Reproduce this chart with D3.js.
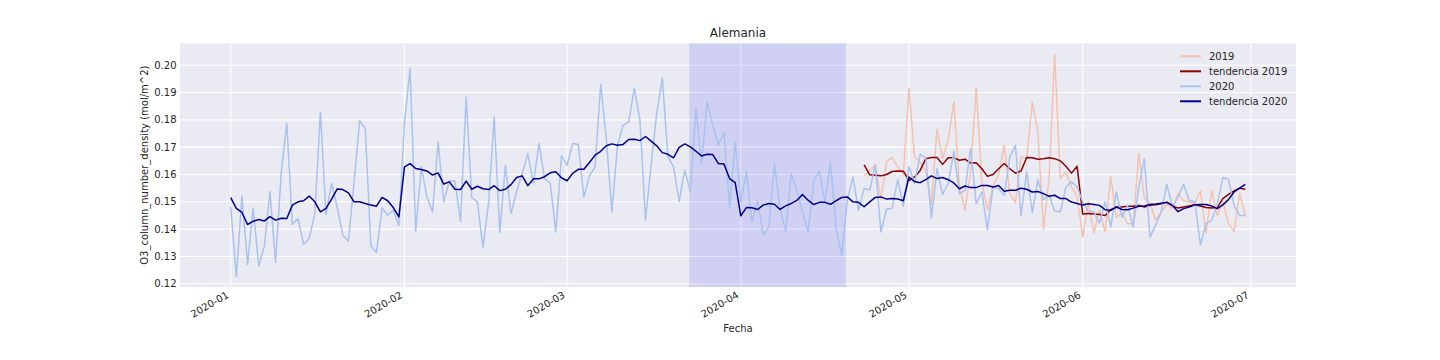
<!DOCTYPE html>
<html>
<head>
<meta charset="utf-8">
<script src="https://cdn.jsdelivr.net/npm/d3@7"></script>
<style>
  body { margin: 0; background: #fff; }
  text { font-family: "DejaVu Sans", sans-serif; fill: #262626; }
</style>
</head>
<body>
<div id="chart"></div>
<script>
// daily values, 2020-01-01 .. 2020-06-30
const start2020 = "2020-01-01";
const o3_2020 = [
  0.1482, 0.1226, 0.1522, 0.1271, 0.1476, 0.1265, 0.1338, 0.1537, 0.1278, 0.1604,
  0.1787, 0.1417, 0.1439, 0.1345, 0.1366, 0.1457, 0.1829, 0.1454, 0.1567, 0.1480,
  0.1378, 0.1356, 0.1570, 0.1797, 0.1768, 0.1338, 0.1315, 0.1478, 0.1451, 0.1470,
  0.1413, 0.1790, 0.1988, 0.1393, 0.1628, 0.1518, 0.1463, 0.1720, 0.1500, 0.1576,
  0.1576, 0.1427, 0.1884, 0.1515, 0.1500, 0.1333, 0.1494, 0.1811, 0.1387, 0.1634,
  0.1457, 0.1537, 0.1604, 0.1676, 0.1567, 0.1713, 0.1585, 0.1569, 0.1390, 0.1668,
  0.1634, 0.1713, 0.1710, 0.1518, 0.1595, 0.1628, 0.1930, 0.1732, 0.1463, 0.1707,
  0.1780, 0.1793, 0.1915, 0.1800, 0.1433, 0.1634, 0.1825, 0.1954, 0.1665, 0.1628,
  0.1502, 0.1616, 0.1537, 0.1842, 0.1640, 0.1866, 0.1780, 0.1707, 0.1753, 0.1479,
  0.1717, 0.1500, 0.1610, 0.1427, 0.1504, 0.1378, 0.1409, 0.1640, 0.1476, 0.1393,
  0.1604, 0.1539, 0.1463, 0.1390, 0.1576, 0.1612, 0.1500, 0.1645, 0.1402, 0.1304,
  0.1506, 0.1591, 0.1469, 0.1549, 0.1543, 0.1634, 0.1390, 0.1473, 0.1476, 0.1582,
  0.1484, 0.1628, 0.1567, 0.1674, 0.1662, 0.1442, 0.1622, 0.1527, 0.1567, 0.1685,
  0.1530, 0.1542, 0.1695, 0.1493, 0.1536, 0.1398, 0.1554, 0.1548, 0.1524, 0.1664,
  0.1707, 0.1450, 0.1609, 0.1460, 0.1581, 0.1508, 0.1524, 0.1466, 0.1463, 0.1554,
  0.1573, 0.1554, 0.1500, 0.1466, 0.1463, 0.1422, 0.1500, 0.1408, 0.1536, 0.1444,
  0.1487, 0.1408, 0.1554, 0.1658, 0.1371, 0.1414, 0.1463, 0.1564, 0.1481, 0.1518,
  0.1564, 0.1505, 0.1500, 0.1343, 0.1420, 0.1432, 0.1490, 0.1589, 0.1582, 0.1487,
  0.1450, 0.1450
];
const trend_2020 = [
  0.1515, 0.1476, 0.1461, 0.1417, 0.1429, 0.1435, 0.1430, 0.1446, 0.1433, 0.1440,
  0.1439, 0.1488, 0.1500, 0.1504, 0.1521, 0.1500, 0.1463, 0.1476, 0.1510, 0.1547,
  0.1545, 0.1533, 0.1500, 0.1500, 0.1494, 0.1488, 0.1484, 0.1516, 0.1504, 0.1479,
  0.1445, 0.1628, 0.1640, 0.1622, 0.1618, 0.1613, 0.1598, 0.1606, 0.1565, 0.1573,
  0.1546, 0.1545, 0.1576, 0.1546, 0.1557, 0.1548, 0.1545, 0.1559, 0.1541, 0.1546,
  0.1563, 0.1589, 0.1595, 0.1559, 0.1584, 0.1584, 0.1592, 0.1606, 0.1610, 0.1588,
  0.1577, 0.1604, 0.1619, 0.1619, 0.1644, 0.1671, 0.1685, 0.1705, 0.1712, 0.1707,
  0.1710, 0.1728, 0.1729, 0.1724, 0.1739, 0.1722, 0.1705, 0.1680, 0.1674, 0.1661,
  0.1699, 0.1712, 0.1701, 0.1685, 0.1668, 0.1674, 0.1673, 0.1640, 0.1638, 0.1585,
  0.1570, 0.1449, 0.1479, 0.1478, 0.1472, 0.1488, 0.1494, 0.1491, 0.1472, 0.1485,
  0.1494, 0.1505, 0.1527, 0.1506, 0.1490, 0.1498, 0.1498, 0.1491, 0.1504, 0.1516,
  0.1518, 0.1500, 0.1498, 0.1482, 0.1500, 0.1516, 0.1518, 0.1510, 0.1512, 0.1510,
  0.1504, 0.1591, 0.1574, 0.1570, 0.1581, 0.1595, 0.1585, 0.1589, 0.1581, 0.1569,
  0.1548, 0.1558, 0.1552, 0.1552, 0.1560, 0.1560, 0.1554, 0.1560, 0.1539, 0.1542,
  0.1542, 0.1550, 0.1546, 0.1536, 0.1538, 0.1530, 0.1520, 0.1524, 0.1512, 0.1512,
  0.1499, 0.1494, 0.1488, 0.1493, 0.1490, 0.1487, 0.1471, 0.1469, 0.1481, 0.1472,
  0.1471, 0.1477, 0.1484, 0.1485, 0.1490, 0.1492, 0.1495, 0.1498, 0.1487, 0.1464,
  0.1475, 0.1481, 0.1489, 0.1490, 0.1490, 0.1485, 0.1475, 0.1489, 0.1508, 0.1536,
  0.1550, 0.1564
];

// 2019 values placed on the same calendar, 2020-04-23 .. 2020-06-30
const start2019 = "2020-04-23";
const o3_2019 = [
  0.1597, 0.1612, 0.1635, 0.1510, 0.1648, 0.1662, 0.1628, 0.1600, 0.1915, 0.1665,
  0.1645, 0.1610, 0.1490, 0.1765, 0.1658, 0.1727, 0.1866, 0.1560, 0.1468, 0.1610,
  0.1917, 0.1570, 0.1471, 0.1560, 0.1600, 0.1707, 0.1530, 0.1497, 0.1665, 0.1658,
  0.1866, 0.1755, 0.1399, 0.1590, 0.2040, 0.1585, 0.1610, 0.1555, 0.1520, 0.1372,
  0.1500, 0.1386, 0.1469, 0.1390, 0.1593, 0.1444, 0.1459, 0.1420, 0.1420, 0.1676,
  0.1512, 0.1497, 0.1432, 0.1463, 0.1490, 0.1475, 0.1530, 0.1503, 0.1500, 0.1493,
  0.1540, 0.1385, 0.1542, 0.1450, 0.1500, 0.1422, 0.1390, 0.1532, 0.1450
];
const trend_2019 = [
  0.1635, 0.1599, 0.1597, 0.1595, 0.1600, 0.1611, 0.1613, 0.1612, 0.1578, 0.1591,
  0.1615, 0.1658, 0.1662, 0.1662, 0.1637, 0.1661, 0.1661, 0.1652, 0.1656, 0.1642,
  0.1643, 0.1621, 0.1593, 0.1600, 0.1621, 0.1640, 0.1621, 0.1605, 0.1613, 0.1662,
  0.1661, 0.1656, 0.1658, 0.1661, 0.1658, 0.1650, 0.1630, 0.1605, 0.1630, 0.1455,
  0.1457, 0.1455, 0.1454, 0.1450, 0.1471, 0.1481, 0.1481, 0.1484, 0.1484, 0.1487,
  0.1481, 0.1487, 0.1489, 0.1493, 0.1499, 0.1485, 0.1477, 0.1481, 0.1485, 0.1489,
  0.1485, 0.1479, 0.1477, 0.1479, 0.1512, 0.1527, 0.1540, 0.1550, 0.1546
];

const lockdown = ["2020-03-22T19:00", "2020-04-19T18:00"];
const yTicks = [0.12, 0.13, 0.14, 0.15, 0.16, 0.17, 0.18, 0.19, 0.20];
const monthTicks = ["2020-01-01", "2020-02-01", "2020-03-01", "2020-04-01",
                    "2020-05-01", "2020-06-01", "2020-07-01"];

const series = [
  { name: "2019", start: start2019, values: o3_2019, color: "#f4c2b1" },
  { name: "tendencia 2019", start: start2019, values: trend_2019, color: "#8b0000" },
  { name: "2020", start: start2020, values: o3_2020, color: "#a9c2ef" },
  { name: "tendencia 2020", start: start2020, values: trend_2020, color: "#00008b" }
];

function drawChart() {
  const margin = { top: 43.3, right: 144, bottom: 73, left: 180 };
  const W = 1440, H = 360;
  const width = W - margin.left - margin.right;
  const height = H - margin.top - margin.bottom;

  const parse = d3.utcParse("%Y-%m-%d");
  const parseT = d3.utcParse("%Y-%m-%dT%H:%M");

  series.forEach(s => {
    const t0 = parse(s.start);
    s.points = s.values.map((v, i) => ({ date: d3.utcDay.offset(t0, i), value: v }));
  });

  // matplotlib-like 5% margins
  const allDates = series.flatMap(s => s.points.map(p => p.date));
  const [dMin, dMax] = d3.extent(allDates);
  const pad = (dMax - dMin) * 0.05;
  const x = d3.scaleUtc()
    .domain([new Date(+dMin - pad), new Date(+dMax + pad)])
    .range([0, width]);

  const y = d3.scaleLinear()
    .domain([0.11883, 0.20801])
    .range([height, 0]);

  const svg = d3.select("#chart")
    .append("svg")
    .attr("width", W)
    .attr("height", H)
    .append("g")
    .attr("transform", `translate(${margin.left},${margin.top})`);

  svg.append("rect")
    .attr("width", width)
    .attr("height", height)
    .attr("fill", "#eaeaf2");

  // grid
  svg.append("g")
    .selectAll("line")
    .data(yTicks)
    .join("line")
    .attr("x1", 0).attr("x2", width)
    .attr("y1", d => y(d)).attr("y2", d => y(d))
    .attr("stroke", "#fff").attr("stroke-width", 1.1);

  const months = monthTicks.map(parse);
  svg.append("g")
    .selectAll("line")
    .data(months)
    .join("line")
    .attr("x1", d => x(d)).attr("x2", d => x(d))
    .attr("y1", 0).attr("y2", height)
    .attr("stroke", "#fff").attr("stroke-width", 1.1);

  // lockdown span
  svg.append("rect")
    .attr("x", x(parseT(lockdown[0])))
    .attr("width", x(parseT(lockdown[1])) - x(parseT(lockdown[0])))
    .attr("y", 0)
    .attr("height", height)
    .attr("fill", "blue")
    .attr("fill-opacity", 0.11);

  const line = d3.line()
    .x(d => x(d.date))
    .y(d => y(d.value));

  svg.append("g")
    .selectAll("path")
    .data(series)
    .join("path")
    .attr("d", d => line(d.points))
    .attr("fill", "none")
    .attr("stroke", d => d.color)
    .attr("stroke-width", 1.5)
    .attr("stroke-linejoin", "round");

  // y tick labels
  svg.append("g")
    .selectAll("text")
    .data(yTicks)
    .join("text")
    .attr("x", -3.5)
    .attr("y", d => y(d))
    .attr("dy", "0.35em")
    .attr("text-anchor", "end")
    .style("font-size", "10px")
    .text(d3.format(".2f"));

  // x tick labels, rotated like autofmt_xdate
  const fmt = d3.utcFormat("%Y-%m");
  svg.append("g")
    .selectAll("text")
    .data(months)
    .join("text")
    .attr("transform", d => `translate(${x(d) - 1.2},${height + 10}) rotate(-30)`)
    .attr("text-anchor", "end")
    .style("font-size", "10px")
    .text(d => fmt(d));

  svg.append("text")
    .attr("x", width / 2)
    .attr("y", -6.5)
    .attr("text-anchor", "middle")
    .style("font-size", "12px")
    .text("Alemania");

  svg.append("text")
    .attr("x", width / 2)
    .attr("y", height + 45.5)
    .attr("text-anchor", "middle")
    .style("font-size", "10px")
    .text("Fecha");

  svg.append("text")
    .attr("transform", `translate(-32,${height / 2}) rotate(-90)`)
    .attr("text-anchor", "middle")
    .style("font-size", "10px")
    .text("O3_column_number_density (mol/m^2)");

  // legend
  const lx = 1000, ly = 13, step = 15;
  const legend = svg.append("g");
  legend.selectAll("line")
    .data(series)
    .join("line")
    .attr("x1", lx).attr("x2", lx + 21)
    .attr("y1", (d, i) => ly + i * step)
    .attr("y2", (d, i) => ly + i * step)
    .attr("stroke", d => d.color)
    .attr("stroke-width", 2);
  legend.selectAll("text")
    .data(series)
    .join("text")
    .attr("x", lx + 29)
    .attr("y", (d, i) => ly + i * step)
    .attr("dy", "0.35em")
    .style("font-size", "10px")
    .text(d => d.name);
}

drawChart();
</script>
</body>
</html>
